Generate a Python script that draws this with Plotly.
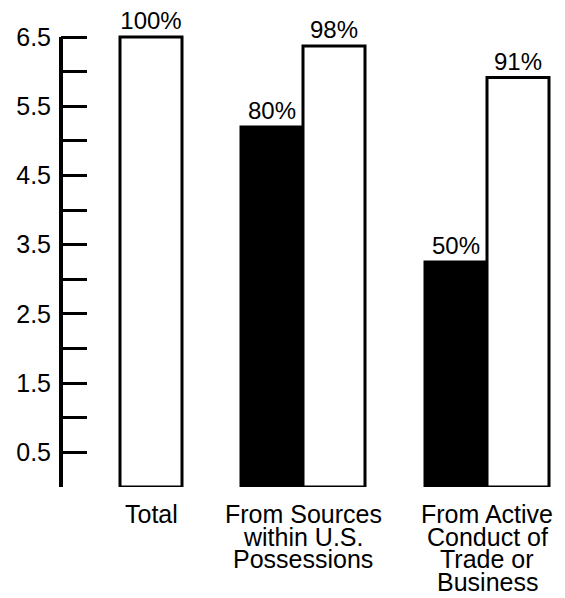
import plotly.graph_objects as go

# ---- data ----
categories = ["Total", "From Sources within U.S. Possessions",
              "From Active Conduct of Trade or Business"]
category_lines = [["Total"],
                  ["From Sources", "within U.S.", "Possessions"],
                  ["From Active", "Conduct of", "Trade or", "Business"]]
black_values = [None, 5.2, 3.25]
black_labels = ["", "80%", "50%"]
white_values = [6.5, 6.37, 5.915]
white_labels = ["100%", "98%", "91%"]
y_tick_values = [0.5, 1.5, 2.5, 3.5, 4.5, 5.5, 6.5]
y_tick_labels = ["0.5", "1.5", "2.5", "3.5", "4.5", "5.5", "6.5"]
y_minor_values = [0, 1, 2, 3, 4, 5, 6]

# ---- layout constants ----
FONT = "Liberation Sans, Arial, Helvetica, sans-serif"
group_centers = [90, 242, 426]
bar_w = 62
white_offsets = [-bar_w / 2, 0, 0]
black_offsets = [0, -bar_w, -bar_w]

fig = go.Figure()

fig.add_trace(go.Bar(
    x=group_centers, y=black_values, width=bar_w, offset=black_offsets,
    marker=dict(color="black", line=dict(color="black", width=3)),
    text=black_labels, textposition="outside", constraintext="none",
    cliponaxis=False,
    textfont=dict(family=FONT, size=24, color="black"),
    showlegend=False, hoverinfo="skip"))
fig.add_trace(go.Bar(
    x=group_centers, y=white_values, width=bar_w, offset=white_offsets,
    marker=dict(color="white", line=dict(color="black", width=3)),
    text=white_labels, textposition="outside", constraintext="none",
    cliponaxis=False,
    textfont=dict(family=FONT, size=24, color="black"),
    showlegend=False, hoverinfo="skip"))

annotations = []
# category labels, one line each (tight leading as in the original)
line_gap = 22.5
first_line = 27
for i, c in enumerate(group_centers):
    for j, line in enumerate(category_lines[i]):
        annotations.append(dict(
            x=c, y=0, xref="x", yref="y", text=line, showarrow=False,
            yanchor="middle", yshift=-(first_line + j * line_gap),
            font=dict(family=FONT, size=25, color="black")))

fig.update_layout(
    width=557, height=590,
    margin=dict(l=53, r=0, t=0, b=111),
    paper_bgcolor="white", plot_bgcolor="white",
    barmode="overlay",
    annotations=annotations,
    xaxis=dict(range=[0, 504], visible=False, fixedrange=True),
    yaxis=dict(
        range=[0, 6.919], showgrid=False, zeroline=False, showline=False,
        tickmode="array", tickvals=y_tick_values, ticktext=y_tick_labels,
        ticks="inside", ticklen=26, tickwidth=3, tickcolor="black",
        ticklabelstandoff=9,
        tickfont=dict(family=FONT, size=25, color="black"),
        minor=dict(tickmode="array", tickvals=y_minor_values, ticks="inside",
                   ticklen=26, tickwidth=3, tickcolor="black", showgrid=False),
        fixedrange=True),
    shapes=[dict(type="line", xref="paper", yref="y", x0=0, x1=0, y0=0, y1=6.5,
                 line=dict(color="black", width=4))],
)

fig.write_html("out.html")
